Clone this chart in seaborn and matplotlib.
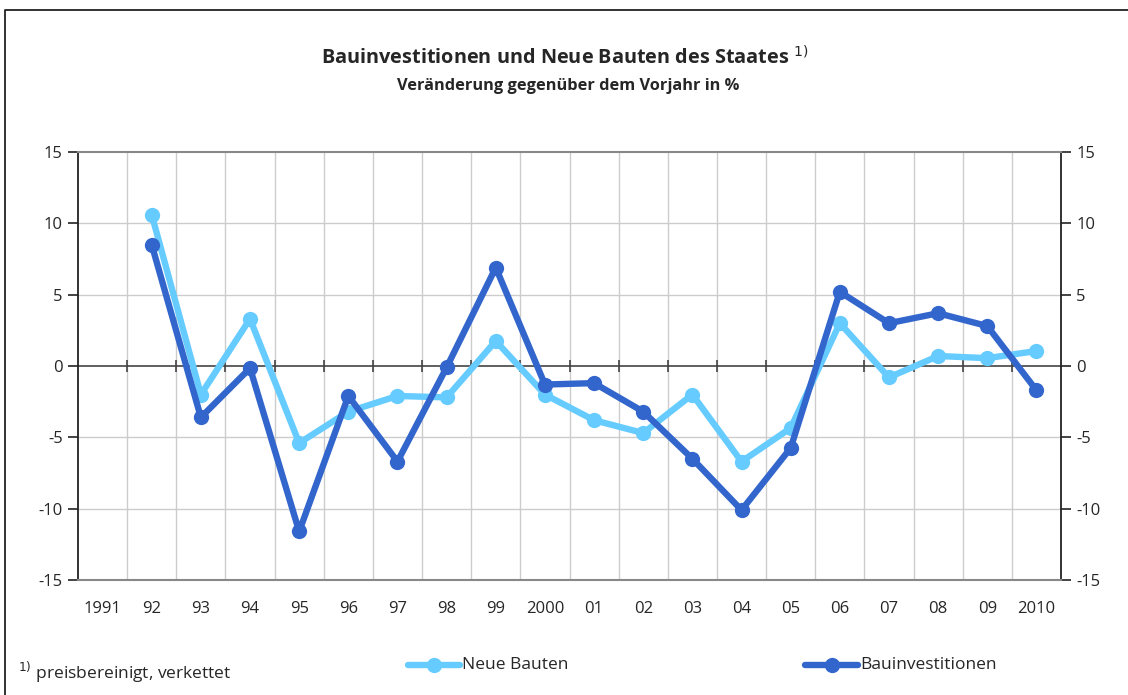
import numpy as np
import pandas as pd
import seaborn as sns
import matplotlib.pyplot as plt
from matplotlib.lines import Line2D

years = list(range(1991, 2011))
year_labels = ["1991", "92", "93", "94", "95", "96", "97", "98", "99", "2000",
               "01", "02", "03", "04", "05", "06", "07", "08", "09", "2010"]
neue_bauten = [np.nan, 10.6, -2.0, 3.3, -5.4, -3.2, -2.1, -2.2, 1.75, -2.0,
               -3.8, -4.7, -2.0, -6.7, -4.35, 3.0, -0.8, 0.7, 0.55, 1.05]
bauinvest = [np.nan, 8.5, -3.6, -0.15, -11.6, -2.1, -6.7, -0.1, 6.9, -1.3,
             -1.2, -3.2, -6.5, -10.1, -5.75, 5.2, 3.0, 3.7, 2.8, -1.7]

light = "#66CCFF"
dark = "#3366CC"

sns.set_style("white")
plt.rcParams['font.family'] = ['Open Sans', 'DejaVu Sans']
plt.rcParams['axes.unicode_minus'] = False

df = pd.DataFrame({"pos": np.arange(len(years)), "Neue Bauten": neue_bauten,
                   "Bauinvestitionen": bauinvest})

fig = plt.figure(figsize=(11.28, 6.95), dpi=100)
ax = fig.add_axes([78 / 1128, 1 - 580 / 695, (1061 - 78) / 1128, (580 - 152) / 695])

# grid lines between categories
n = len(years)
for b in np.arange(0.5, n - 1, 1.0):
    ax.axvline(b, color="#cccccc", lw=1, zorder=0)
for yv in [-10, -5, 5, 10]:
    ax.axhline(yv, color="#cccccc", lw=1, zorder=0)
ax.axhline(0, color="#444444", lw=1.2, zorder=1)
ax.vlines(np.arange(0.5, n - 1, 1.0), -0.4, 0.4, color="#444444", lw=1.2, zorder=1)

sns.lineplot(data=df, x="pos", y="Neue Bauten", ax=ax, color=light, lw=4.6,
             marker="o", markersize=11, markeredgewidth=0, zorder=3)
sns.lineplot(data=df, x="pos", y="Bauinvestitionen", ax=ax, color=dark, lw=4.6,
             marker="o", markersize=11, markeredgewidth=0, zorder=4)

ax.set_xlim(-0.5, n - 0.5)
ax.set_ylim(-15, 15)
ax.set_xticks(np.arange(n))
ax.set_xticklabels(year_labels, fontsize=12)
ax.set_yticks(range(-15, 16, 5))
ax.tick_params(axis="x", length=0, pad=15)
ax.tick_params(axis="y", length=7, width=1.2, direction="out", labelsize=12, pad=4,
               left=True, right=True, labelleft=True, labelright=True, color="#222222")
ax.set_xlabel("")
ax.set_ylabel("")
for s in ["left", "right"]:
    ax.spines[s].set_color("#222222")
    ax.spines[s].set_linewidth(1.3)
for s in ["top", "bottom"]:
    ax.spines[s].set_color("#888888")
    ax.spines[s].set_linewidth(1.5)
    ax.spines[s].set_visible(True)

fig.text(565 / 1128, 1 - 58 / 695, "Bauinvestitionen und Neue Bauten des Staates $^{1)}$",
         ha="center", va="center", fontsize=14.3, fontweight="bold")
fig.text(568 / 1128, 1 - 86 / 695, "Veränderung gegenüber dem Vorjahr in %",
         ha="center", va="center", fontsize=11.8, fontweight="bold")

# legend drawn manually at bottom
for x0, x1, col, lab in [(408, 460, light, "Neue Bauten"), (805, 858, dark, "Bauinvestitionen")]:
    fig.add_artist(Line2D([x0 / 1128, x1 / 1128], [1 - 665 / 695] * 2, color=col, lw=4.6,
                          transform=fig.transFigure))
    fig.add_artist(Line2D([(x0 + x1) / 2 / 1128], [1 - 665 / 695], color=col, marker="o",
                          markersize=11, markeredgewidth=0, transform=fig.transFigure))
    fig.text((x1 + 2) / 1128, 1 - 665 / 695, lab, ha="left", va="center", fontsize=12.5)

fig.text(18 / 1128, 1 - 672 / 695, "$^{1)}$ preisbereinigt, verkettet", ha="left", va="center",
         fontsize=12.5)

# outer frame
fig.add_artist(Line2D([5 / 1128, 5 / 1128, 1], [0, 1 - 10 / 695, 1 - 10 / 695], color="#222222",
                      lw=1.3, transform=fig.transFigure))

fig.savefig("out.png", dpi=100)
